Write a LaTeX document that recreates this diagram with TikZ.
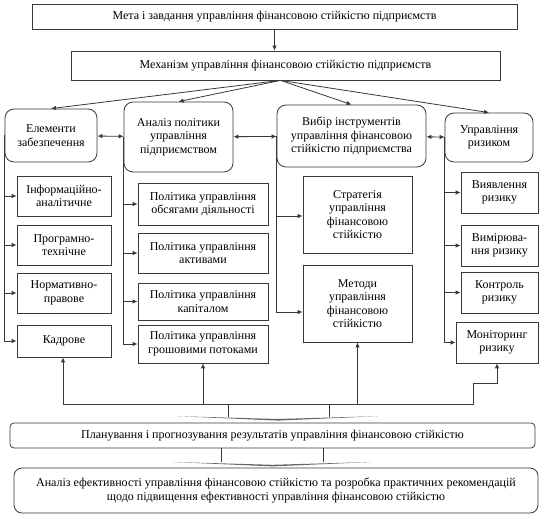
\documentclass[tikz,border=0pt]{standalone}
\usepackage{fontspec}
\setmainfont{Liberation Serif}
\usetikzlibrary{arrows.meta}
\colorlet{lc}{black!78}

\begin{document}
\begin{tikzpicture}[x=1pt,y=-1pt,font=\fontsize{12}{13.5}\selectfont,b/.style={draw=lc,line width=.8pt,align=center,inner sep=1pt},rb/.style={b,rounded corners=9pt},a/.style={-{Latex[length=5pt,width=4.5pt]},line width=.8pt,lc},da/.style={{Latex[length=5pt,width=4.5pt]}-{Latex[length=5pt,width=4.5pt]},line width=.8pt,lc},ln/.style={line width=.8pt,lc}]
\useasboundingbox (0,0) rectangle (541,518);
% top level
\node[b,minimum width=485pt,minimum height=25pt] (meta) at (274.5,16.5) {Мета і завдання управління фінансовою стійкістю підприємств};
\node[b,minimum width=429pt,minimum height=29pt] (mech) at (285.5,65.5) {Механізм управління фінансовою стійкістю підприємств};
% four blocks
\node[rb,minimum width=92pt,minimum height=53pt] (elem) at (51,135.5) {Елементи\\забезпечення};
\node[rb,minimum width=109pt,minimum height=70pt] (anal) at (178.5,137) {Аналіз політики\\управління\\підприємством};
\node[rb,minimum width=149pt,minimum height=62pt] (vyb) at (351.5,136) {Вибір інструментів\\управління фінансовою\\стійкістю підприємства};
\node[rb,minimum width=88pt,minimum height=49pt] (ryz) at (489,137.5) {Управління\\ризиком};
% elements
\node[b,minimum width=94pt,minimum height=40pt] (inf) at (64,196) {Інформаційно-\\аналітичне};
\node[b,minimum width=94pt,minimum height=40pt] (prog) at (64,245) {Програмно-\\технічне};
\node[b,minimum width=94pt,minimum height=40pt] (norm) at (64,293) {Нормативно-\\правове};
\node[b,minimum width=94pt,minimum height=32pt] (kadr) at (64,341) {Кадрове};
% policies
\node[b,minimum width=130pt,minimum height=42pt] (pol1) at (203,204) {Політика управління\\обсягами діяльності};
\node[b,minimum width=130pt,minimum height=40pt] (pol2) at (203,253) {Політика управління\\активами};
\node[b,minimum width=130pt,minimum height=37pt] (pol3) at (203,301.5) {Політика управління\\капіталом};
\node[b,minimum width=130pt,minimum height=38pt] (pol4) at (203,344) {Політика управління\\грошовими потоками};
% instruments
\node[b,minimum width=109pt,minimum height=77pt] (strat) at (357.5,214.5) {Стратегія\\управління\\фінансовою\\стійкістю};
\node[b,minimum width=109pt,minimum height=77pt] (metod) at (357.5,303.5) {Методи\\управління\\фінансовою\\стійкістю};
% risk
\node[b,minimum width=77pt,minimum height=41pt] (vyav) at (499.5,192.5) {Виявлення\\ризику};
\node[b,minimum width=77pt,minimum height=41pt] (vymir) at (499.5,245.5) {Вимірюва-\\ння ризику};
\node[b,minimum width=77pt,minimum height=41pt] (kontr) at (499.5,292.5) {Контроль\\ризику};
\node[b,minimum width=82pt,minimum height=41pt] (monit) at (497,342.5) {Моніторинг\\ризику};
% bottom
\node[b,rounded corners=4pt,minimum width=525pt,minimum height=25pt] (plan) at (272.5,435.5) {Планування і прогнозування результатів управління фінансовою стійкістю};
\node[b,rounded corners=8pt,minimum width=524pt,minimum height=45pt] (analef) at (276,490.5) {Аналіз ефективності управління фінансовою стійкістю та розробка практичних рекомендацій\\щодо підвищення ефективності управління фінансовою стійкістю};

\draw[a] (meta.south) -- (meta.south |- mech.north);
\coordinate (fan) at ([xshift=-5pt]mech.south);
\draw[a] (fan) -- (elem.north);\draw[a] (fan) -- (anal.north);\draw[a] (fan) -- (vyb.north);\draw[a] (fan) -- (ryz.north);
\draw[da] (elem) -- (anal);\draw[da] (anal) -- (vyb);\draw[da] (vyb) -- (ryz);
\foreach \s in {inf,prog,norm,kadr} \draw[a] (elem.west) |- (\s);
\foreach \s in {pol1,pol2,pol3,pol4} \draw[a] (anal.west) |- (\s);
\foreach \s in {vyav,vymir,kontr,monit} \draw[a] (ryz.west) |- (\s);
\draw[a] (vyb.west) |- ([yshift=-1.5pt]strat.west);\draw[a] (vyb.west) |- ([yshift=-8.5pt]metod.west);
% feedback
\coordinate (fbl) at (63,404);\coordinate (fbr) at (473,404);\coordinate (stp) at (473,383);
\draw[ln] (fbl) -- (fbr) -- (stp);
\draw[a] (stp) -| (monit.south);
\draw[a] (fbl) -- (fbl |- kadr.south);
\draw[a] (pol4.south |- fbl) -- (pol4.south);
\draw[a] (metod.south |- fbl) -- (metod.south);
% block arrows
\coordinate (v1) at (228,417);\coordinate (v2) at (329,417);
\draw[ln] (v1 |- fbl) -- (v1);\draw[ln] (v2 |- fbl) -- (v2);
\fill[black!60] (178,416.2) -- (278,419) -- (378,416.2) -- (278,420.6) -- cycle;
\coordinate (v3) at (221,462.5);\coordinate (v4) at (323,462.5);
\draw[ln] (v3 |- plan.south) -- (v3);\draw[ln] (v4 |- plan.south) -- (v4);
\fill[black!60] (173,462) -- (272.5,464.8) -- (372,462) -- (272.5,466.4) -- cycle;
\end{tikzpicture}
\end{document}
